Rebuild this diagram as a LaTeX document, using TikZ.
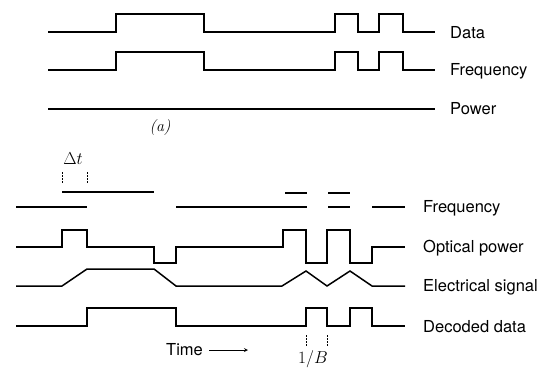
\documentclass[tikz,border=0pt]{standalone}
\usepackage{amsmath}
\usepackage{fontspec}
\setsansfont{TeX Gyre Heros}
\usepackage{tikz}

\begin{document}
\begin{tikzpicture}[x=1pt,y=-1pt,
    wave/.style={line width=1.5pt,line join=miter},
    tick/.style={line width=0.6pt,dash pattern=on 2pt off 1pt},
    lbl/.style={anchor=west,inner sep=0pt,font=\sffamily\fontsize{16.5}{18}\selectfont},
    mlbl/.style={inner sep=0pt,font=\fontsize{18}{20}\selectfont}]
    \useasboundingbox (0,0) rectangle (553,367);
    % (a)
    \draw[wave] (48,32) -- (116,32) -- (116,14) -- (204,14) -- (204,32) -- (335,32) -- (335,14)
      -- (358,14) -- (358,32) -- (379,32) -- (379,14) -- (403,14) -- (403,32) -- (435,32);
    \draw[wave] (48,70) -- (116,70) -- (116,52) -- (204,52) -- (204,70) -- (335,70) -- (335,52)
      -- (358,52) -- (358,70) -- (379,70) -- (379,52) -- (403,52) -- (403,70) -- (435,70);
    \draw[wave] (48,109) -- (435,109);
    \node[lbl] (data) at (450,33) {Data};
    \node[lbl] (freqa) at (450,71) {Frequency};
    \node[lbl] (power) at (450,109) {Power};
    \node[inner sep=0pt,font=\rmfamily\itshape\fontsize{16}{18}\selectfont] (parta) at (160,128) {(a)};
    % (b)
    \draw[wave] (16,207) -- (87,207);
    \draw[wave] (62,192) -- (154,192);
    \draw[wave] (176,207) -- (307,207);
    \draw[wave] (285,193) -- (307,193);
    \draw[wave] (328,193) -- (350,193);
    \draw[wave] (328,207) -- (350,207);
    \draw[wave] (372,207) -- (405,207);
    \draw[wave] (16,247) -- (62,247) -- (62,230) -- (87,230) -- (87,247) -- (154,247) -- (154,263)
      -- (176,263) -- (176,247) -- (283,247) -- (283,230) -- (306,230) -- (306,263) -- (327,263)
      -- (327,230) -- (350,230) -- (350,263) -- (372,263) -- (372,247) -- (405,247);
    \draw[wave] (16,286) -- (62,286) -- (87,269) -- (154,269) -- (176,286) -- (282,286) -- (306,271)
      -- (327,286) -- (350,271) -- (372,286) -- (405,286);
    \draw[wave] (16,326) -- (87,326) -- (87,308) -- (176,308) -- (176,326) -- (306,326) -- (306,308)
      -- (327,308) -- (327,326) -- (350,326) -- (350,308) -- (372,308) -- (372,326) -- (405,326);
    \draw[tick] (62,172) -- (62,183);
    \draw[tick] (87,172) -- (87,183);
    \node[mlbl] (dt) at (73,159) {$\Delta t$};
    \draw[tick] (306,335) -- (306,346);
    \draw[tick] (327,335) -- (327,346);
    \node[mlbl] (rate) at (313,359) {$1/B$};
    \node[lbl] (freqb) at (423,208) {Frequency};
    \node[lbl] (optpow) at (423,248) {Optical power};
    \node[lbl] (elsig) at (423,287) {Electrical signal};
    \node[lbl] (decoded) at (423,327) {Decoded data};
    \node[lbl] (time) at (166,350) {Time};
    \coordinate (tend) at (248,350);
    \draw[line width=0.8pt,-stealth] (time.east) ++(6pt,0) -- (tend);
\end{tikzpicture}
\end{document}
